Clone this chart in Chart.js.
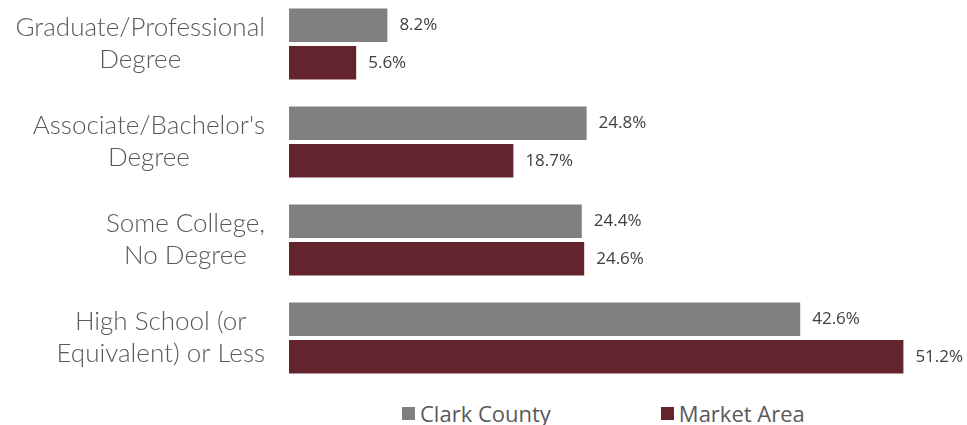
<!DOCTYPE html>
<html lang="en">
<head>
<meta charset="UTF-8">
<title>Educational Attainment</title>
<script src="https://cdn.jsdelivr.net/npm/chart.js"></script>
<style>
    * { margin: 0; padding: 0; }
    body { width: 967px; height: 425px; background: #fff; position: relative; overflow: hidden; }
    #wrap { position: absolute; left: 0; top: -5px; width: 967px; height: 392px; }
    #legend { position: absolute; top: 400px; left: 402px; display: flex; font-family: "Open Sans", sans-serif; font-size: 22px; color: #595959; }
    .item { display: flex; align-items: center; height: 26px; }
    .item + .item { margin-left: 110px; }
    .box { width: 13px; height: 13px; margin-right: 5px; }
</style>
</head>
<body>
<div id="wrap"><canvas id="chart"></canvas></div>
<div id="legend"></div>
<script>
    const categories = [
        ['Graduate/Professional', 'Degree'],
        ["Associate/Bachelor's", 'Degree'],
        ['Some College,', 'No Degree'],
        ['High School (or', 'Equivalent) or Less']
    ];
    const clarkCounty = [8.2, 24.8, 24.4, 42.6];
    const marketArea = [5.6, 18.7, 24.6, 51.2];
    const seriesNames = ['Clark County', 'Market Area'];
    const seriesColors = ['#808080', '#63242E'];

    const labelFont = '300 26px Lato';
    const valueFont = '17px "Open Sans"';

    // etiquetas das categorias, cada uma centralizada nas suas linhas
    const categoryLabels = {
        id: 'categoryLabels',
        afterDraw(chart) {
            const ctx = chart.ctx;
            const y = chart.scales.y;
            const right = chart.chartArea.left - 24;
            ctx.save();
            ctx.font = labelFont;
            ctx.fillStyle = '#595959';
            ctx.textAlign = 'center';
            ctx.textBaseline = 'middle';
            categories.forEach((lines, i) => {
                const widest = Math.max(...lines.map(l => ctx.measureText(l).width));
                const cx = right - widest / 2;
                const cy = y.getPixelForTick(i);
                const lh = 32;
                lines.forEach((l, j) => {
                    ctx.fillText(l, cx, cy + (j - (lines.length - 1) / 2) * lh);
                });
            });
            ctx.restore();
        }
    };

    // valores ao lado das barras
    const valueLabels = {
        id: 'valueLabels',
        afterDatasetsDraw(chart) {
            const ctx = chart.ctx;
            ctx.save();
            ctx.font = valueFont;
            ctx.fillStyle = '#404040';
            ctx.textAlign = 'left';
            ctx.textBaseline = 'middle';
            chart.data.datasets.forEach((ds, di) => {
                chart.getDatasetMeta(di).data.forEach((bar, i) => {
                    ctx.fillText(ds.data[i].toFixed(1) + '%', bar.x + 12, bar.y);
                });
            });
            ctx.restore();
        }
    };

    new Chart(document.getElementById('chart'), {
        type: 'bar',
        data: {
            labels: categories,
            datasets: [
                { label: seriesNames[0], data: clarkCounty, backgroundColor: seriesColors[0] },
                { label: seriesNames[1], data: marketArea, backgroundColor: seriesColors[1] }
            ]
        },
        options: {
            indexAxis: 'y',
            responsive: true,
            maintainAspectRatio: false,
            animation: false,
            categoryPercentage: 0.765,
            barPercentage: 0.893,
            layout: { padding: { left: 0, right: 18, top: 0, bottom: 0 } },
            plugins: { legend: { display: false }, tooltip: { enabled: false } },
            scales: {
                x: { display: false, min: 0, max: 55 },
                y: {
                    grid: { display: false },
                    border: { display: false },
                    ticks: { display: false },
                    afterFit: (scale) => { scale.width = 289; }
                }
            }
        },
        plugins: [categoryLabels, valueLabels]
    });

    const legend = document.getElementById('legend');
    seriesNames.forEach((name, i) => {
        legend.innerHTML += `<div class="item"><span class="box" style="background:${seriesColors[i]}"></span>${name}</div>`;
    });
</script>
</body>
</html>
